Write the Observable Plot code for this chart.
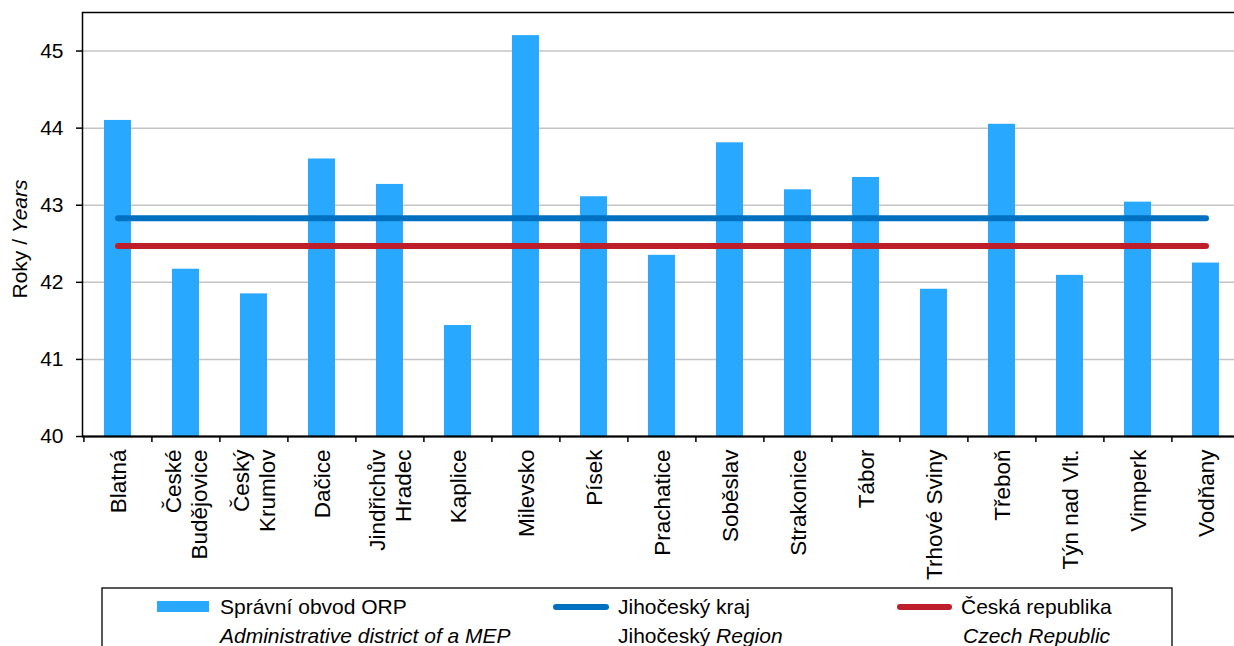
<!DOCTYPE html>
<html>
<head>
<meta charset="utf-8">
<script src="https://cdn.jsdelivr.net/npm/d3@7"></script>
<script src="https://cdn.jsdelivr.net/npm/@observablehq/plot@0.6"></script>
<style>
  html, body { margin: 0; padding: 0; background: #fff; overflow: hidden; width: 1234px; height: 646px; }
  #chart { width: 1241px; }
  #chart svg { display: block; max-width: none !important; }
  #legend { display: block; }
</style>
</head>
<body>
<div id="chart"></div>
<svg id="legend" width="1234" height="60"></svg>
<script>
// ---- data ----
const districts = ["Blatná", "České Budějovice", "Český Krumlov", "Dačice", "Jindřichův Hradec", "Kaplice", "Milevsko", "Písek", "Prachatice", "Soběslav", "Strakonice", "Tábor", "Trhové Sviny", "Třeboň", "Týn nad Vlt.", "Vimperk", "Vodňany"];
const districtLabels = ["Blatná", "České\nBudějovice", "Český\nKrumlov", "Dačice", "Jindřichův\nHradec", "Kaplice", "Milevsko", "Písek", "Prachatice", "Soběslav", "Strakonice", "Tábor", "Trhové Sviny", "Třeboň", "Týn nad Vlt.", "Vimperk", "Vodňany"];
const ageValues = [44.10, 42.17, 41.85, 43.60, 43.27, 41.44, 45.20, 43.11, 42.35, 43.81, 43.20, 43.36, 41.91, 44.05, 42.09, 43.04, 42.25];
const regionAvg = 42.83;   // Jihočeský kraj
const czechAvg = 42.47;    // Česká republika
const yTicks = [40, 41, 42, 43, 44, 45];

// ---- layout ----
const W = 1241, H = 586, ML = 82, MR = 0, MT = 12, MB = 150;
const FONT = "'Liberation Sans', Arial, sans-serif";
const barColor = "#29a8ff", blueColor = "#0070c0", redColor = "#be1e2a";
const step = (W - ML - MR) / districts.length;

const bars = districts.map((d, i) => ({name: d, label: districtLabels[i], value: ageValues[i]}));
const ends = [districts[0], districts[districts.length - 1]];
const regionLine = ends.map(d => ({name: d, value: regionAvg}));
const czechLine = ends.map(d => ({name: d, value: czechAvg}));

const plot = Plot.plot({
  width: W, height: H,
  marginLeft: ML, marginRight: MR, marginTop: MT, marginBottom: MB,
  style: {fontFamily: FONT, fontSize: "21px", color: "#000", background: "#fff", maxWidth: "none"},
  x: {type: "band", domain: districts, paddingInner: 0.6, paddingOuter: 0.3, axis: null},
  y: {domain: [40, 45.5], axis: null},
  marks: [
    Plot.gridY(yTicks.slice(1), {stroke: "#c4c4c4", strokeOpacity: 1, strokeWidth: 1.5}),
    Plot.barY(bars, {x: "name", y1: 40, y2: "value", fill: barColor}),
    Plot.lineY(regionLine, {x: "name", y: "value", stroke: blueColor, strokeWidth: 6, strokeLinecap: "round"}),
    Plot.lineY(czechLine, {x: "name", y: "value", stroke: redColor, strokeWidth: 6, strokeLinecap: "round"}),
    Plot.frame({stroke: "#000", strokeWidth: 1.5}),
    Plot.ruleY([40], {stroke: "#000", strokeWidth: 2}),
    Plot.axisY({ticks: yTicks, tickSize: 6, tickPadding: 13, tickFormat: d => String(d), fontSize: 21, stroke: "#000", strokeWidth: 1.5, label: null}),
    Plot.axisX({tickSize: 6, tickFormat: () => "", dx: -step / 2, stroke: "#000", strokeWidth: 1.5, label: null}),
    Plot.text(bars, {x: "name", text: "label", frameAnchor: "bottom", dy: 13, rotate: -90, textAnchor: "end", lineAnchor: "middle", lineHeight: 1.15, fontSize: 22.5, fill: "#000"})
  ]
});
document.getElementById("chart").appendChild(plot);

// y-axis title with italic English part
const yt = d3.select(plot).append("text")
  .attr("transform", "translate(27,239) rotate(-90)")
  .attr("text-anchor", "middle")
  .attr("font-family", FONT)
  .attr("font-size", 21)
  .attr("fill", "#000");
yt.append("tspan").text("Roky / ");
yt.append("tspan").attr("font-style", "italic").text("Years");

// ---- legend ----
const lg = d3.select("#legend").attr("font-family", FONT).attr("font-size", 21);
lg.append("rect").attr("x", 102).attr("y", 2).attr("width", 1070).attr("height", 100)
  .attr("fill", "none").attr("stroke", "#000").attr("stroke-width", 1.3);

const items = [
  {kind: "bar", color: barColor, x0: 157, x1: 209, tx: 220, cz: "Správní obvod ORP", en: [["Administrative district of a MEP", true]]},
  {kind: "line", color: blueColor, x0: 556, x1: 606, tx: 618, cz: "Jihočeský kraj", en: [["Jihočeský ", false], ["Region", true]]},
  {kind: "line", color: redColor, x0: 900, x1: 949, tx: 961, cz: "Česká republika", en: [["Czech Republic", true]]}
];
items.forEach(it => {
  if (it.kind === "bar") {
    lg.append("rect").attr("x", it.x0).attr("y", 15).attr("width", it.x1 - it.x0).attr("height", 11).attr("fill", it.color);
  } else {
    lg.append("line").attr("x1", it.x0).attr("x2", it.x1).attr("y1", 21).attr("y2", 21)
      .attr("stroke", it.color).attr("stroke-width", 6).attr("stroke-linecap", "round");
  }
  lg.append("text").attr("x", it.tx).attr("y", 28).text(it.cz);
  const t2 = lg.append("text").attr("x", it.tx + (it.cz.startsWith("Česká") ? 2 : 0)).attr("y", 57);
  it.en.forEach(([s, ital]) => t2.append("tspan").attr("font-style", ital ? "italic" : null).text(s));
});
</script>
</body>
</html>
